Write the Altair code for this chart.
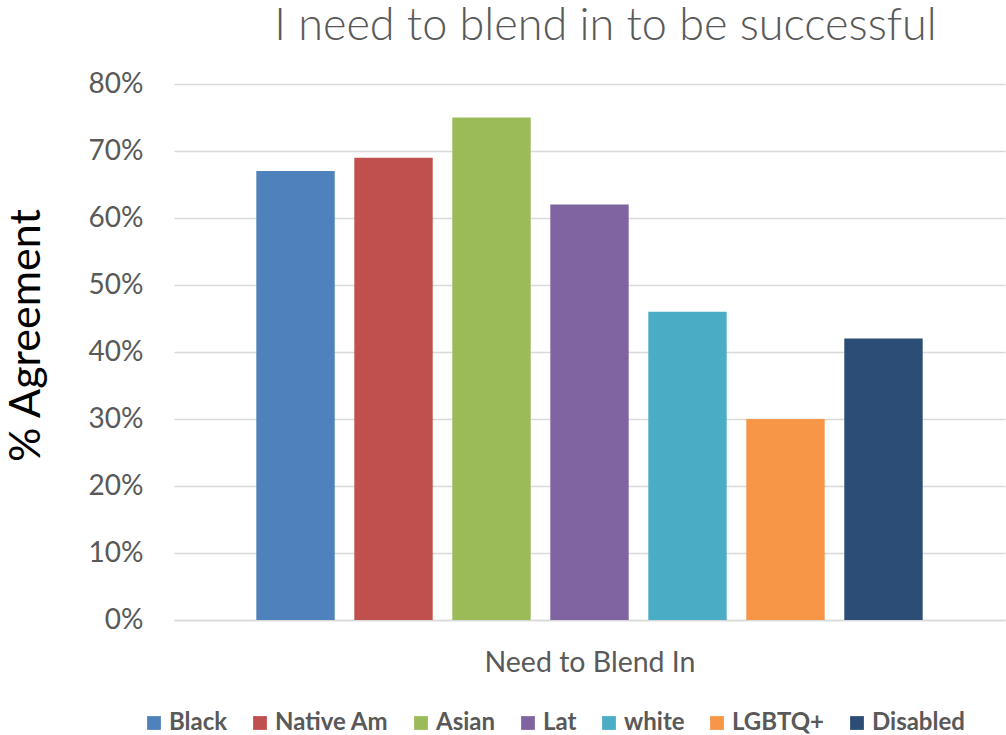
import altair as alt
import pandas as pd

# Survey responses: share of each group agreeing with the statement
groups = ["Black", "Native Am", "Asian", "Lat", "white", "LGBTQ+", "Disabled"]
agreement = [0.67, 0.69, 0.75, 0.62, 0.46, 0.30, 0.42]
colors = ["#4F81BD", "#C0504D", "#9BBB59", "#8064A2", "#4BACC6", "#F79646", "#2C4D75"]
y_ticks = [0.0, 0.1, 0.2, 0.3, 0.4, 0.5, 0.6, 0.7, 0.8]

df = pd.DataFrame({"group": groups, "agree": agreement})

FONT = "Lato"
GREY = "#595959"
GRID = "#d9d9d9"

chart = (
    alt.Chart(df)
    .mark_bar()
    .encode(
        x=alt.X(
            "group:N",
            sort=groups,
            scale=alt.Scale(paddingInner=0.2, paddingOuter=0.84),
            axis=alt.Axis(
                labels=False,
                ticks=False,
                domainColor=GRID,
                domainWidth=1.5,
                title="Need to Blend In",
                titleFont=FONT,
                titleFontSize=28.5,
                titleFontWeight="normal",
                titleColor=GREY,
                titleBaseline="middle",
                titleY=42,
            ),
        ),
        y=alt.Y(
            "agree:Q",
            scale=alt.Scale(domain=[0, 0.8]),
            axis=alt.Axis(
                values=y_ticks,
                format=".0%",
                domain=False,
                ticks=False,
                gridColor=GRID,
                gridWidth=1.5,
                labelPadding=31,
                labelFont=FONT,
                labelFontSize=28,
                labelColor=GREY,
                title="% Agreement",
                titleFont=FONT,
                titleFontSize=43,
                titleFontWeight="normal",
                titleColor="#000000",
                titleAngle=270,
                titleAlign="center",
                titleBaseline="middle",
                titleX=-148,
                titleY=251,
            ),
        ),
        color=alt.Color(
            "group:N",
            sort=groups,
            scale=alt.Scale(domain=groups, range=colors),
            legend=alt.Legend(
                title=None,
                orient="none",
                direction="horizontal",
                legendX=-32,
                legendY=627,
                symbolType="square",
                symbolSize=190,
                symbolStrokeWidth=0,
                symbolOpacity=1,
                labelFont=FONT,
                labelFontSize=24,
                labelFontWeight="bold",
                labelColor=GREY,
                labelOffset=3,
                columnPadding=20,
            ),
        ),
    )
    .properties(
        width=831,
        height=536,
        autosize=alt.AutoSizeParams(type="none"),
        padding={"left": 174, "top": 84, "right": 1, "bottom": 115},
        title=alt.TitleParams(
            text="I need to blend in to be successful",
            font=FONT,
            fontSize=45,
            fontWeight=300,
            color=GREY,
            anchor="middle",
            frame="group",
            dx=16,
            offset=21,
        ),
    )
    .configure_view(stroke=None)
)

chart.save("out.html", embed_options={"renderer": "svg", "actions": False})
